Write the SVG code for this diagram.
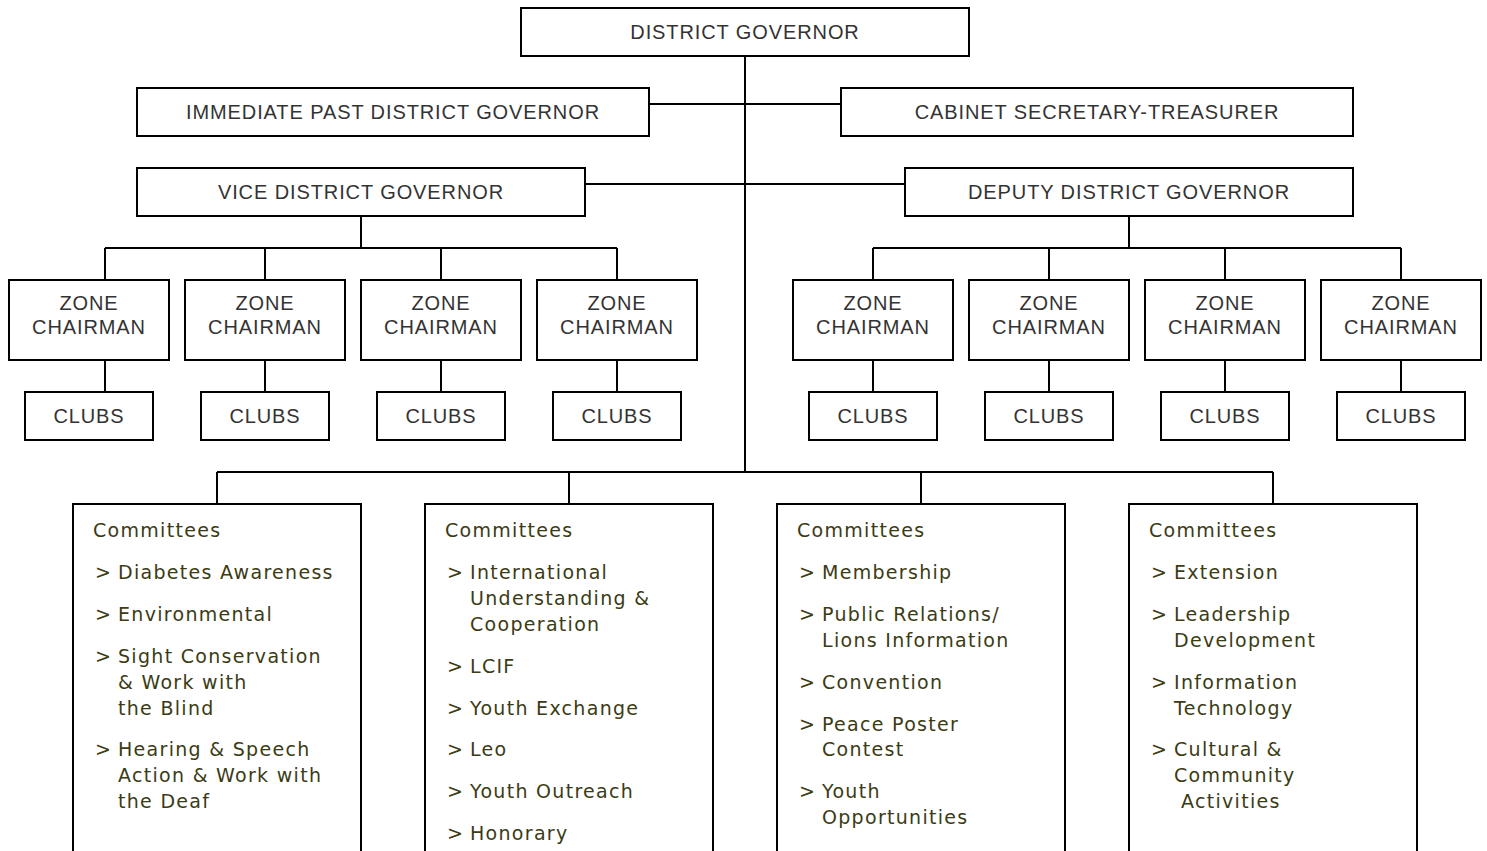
<svg xmlns="http://www.w3.org/2000/svg" width="1487" height="851" viewBox="0 0 1487 851">
<style>
.box{fill:#fff;stroke:#000;stroke-width:2}
.t{font-family:"Liberation Sans",Arial,sans-serif;font-size:20px;fill:#333;text-anchor:middle;letter-spacing:0.9px}
.c{font-family:"DejaVu Sans",Verdana,sans-serif;font-size:19px;fill:#3b3b14;letter-spacing:1.3px}
.ln{fill:none;stroke:#000;stroke-width:2}
</style>
<rect width="1487" height="851" fill="#fff"/>
<g id="connectors" class="ln">
<path d="M745 56V472"/>
<path d="M649 104H841"/>
<path d="M585 184H905"/>
<path d="M361 216V248M105 248H617M105 248V280M265 248V280M441 248V280M617 248V280"/>
<path d="M1129 216V248M873 248H1401M873 248V280M1049 248V280M1225 248V280M1401 248V280"/>
<path d="M105 360V392M265 360V392M441 360V392M617 360V392M873 360V392M1049 360V392M1225 360V392M1401 360V392"/>
<path d="M217 472H1273M217 472V504M569 472V504M921 472V504M1273 472V504"/>
</g>
<g id="dg"><rect class="box" x="521" y="8" width="448" height="48"/><text class="t" x="745" y="39">DISTRICT GOVERNOR</text></g>
<g id="ipdg"><rect class="box" x="137" y="88" width="512" height="48"/><text class="t" x="393" y="119">IMMEDIATE PAST DISTRICT GOVERNOR</text></g>
<g id="cst"><rect class="box" x="841" y="88" width="512" height="48"/><text class="t" x="1097" y="119">CABINET SECRETARY-TREASURER</text></g>
<g id="vdg"><rect class="box" x="137" y="168" width="448" height="48"/><text class="t" x="361" y="199">VICE DISTRICT GOVERNOR</text></g>
<g id="ddg"><rect class="box" x="905" y="168" width="448" height="48"/><text class="t" x="1129" y="199">DEPUTY DISTRICT GOVERNOR</text></g>
<g id="zone1"><rect class="box" x="9" y="280" width="160" height="80"/><text class="t" x="89" y="310">ZONE</text><text class="t" x="89" y="334">CHAIRMAN</text></g>
<g id="zone2"><rect class="box" x="185" y="280" width="160" height="80"/><text class="t" x="265" y="310">ZONE</text><text class="t" x="265" y="334">CHAIRMAN</text></g>
<g id="zone3"><rect class="box" x="361" y="280" width="160" height="80"/><text class="t" x="441" y="310">ZONE</text><text class="t" x="441" y="334">CHAIRMAN</text></g>
<g id="zone4"><rect class="box" x="537" y="280" width="160" height="80"/><text class="t" x="617" y="310">ZONE</text><text class="t" x="617" y="334">CHAIRMAN</text></g>
<g id="zone5"><rect class="box" x="793" y="280" width="160" height="80"/><text class="t" x="873" y="310">ZONE</text><text class="t" x="873" y="334">CHAIRMAN</text></g>
<g id="zone6"><rect class="box" x="969" y="280" width="160" height="80"/><text class="t" x="1049" y="310">ZONE</text><text class="t" x="1049" y="334">CHAIRMAN</text></g>
<g id="zone7"><rect class="box" x="1145" y="280" width="160" height="80"/><text class="t" x="1225" y="310">ZONE</text><text class="t" x="1225" y="334">CHAIRMAN</text></g>
<g id="zone8"><rect class="box" x="1321" y="280" width="160" height="80"/><text class="t" x="1401" y="310">ZONE</text><text class="t" x="1401" y="334">CHAIRMAN</text></g>
<g id="clubs1"><rect class="box" x="25" y="392" width="128" height="48"/><text class="t" x="89" y="423">CLUBS</text></g>
<g id="clubs2"><rect class="box" x="201" y="392" width="128" height="48"/><text class="t" x="265" y="423">CLUBS</text></g>
<g id="clubs3"><rect class="box" x="377" y="392" width="128" height="48"/><text class="t" x="441" y="423">CLUBS</text></g>
<g id="clubs4"><rect class="box" x="553" y="392" width="128" height="48"/><text class="t" x="617" y="423">CLUBS</text></g>
<g id="clubs5"><rect class="box" x="809" y="392" width="128" height="48"/><text class="t" x="873" y="423">CLUBS</text></g>
<g id="clubs6"><rect class="box" x="985" y="392" width="128" height="48"/><text class="t" x="1049" y="423">CLUBS</text></g>
<g id="clubs7"><rect class="box" x="1161" y="392" width="128" height="48"/><text class="t" x="1225" y="423">CLUBS</text></g>
<g id="clubs8"><rect class="box" x="1337" y="392" width="128" height="48"/><text class="t" x="1401" y="423">CLUBS</text></g>
<g id="committees1">
<rect class="box" x="73" y="504" width="288" height="360"/>
<text class="c" x="93" y="537">Committees</text>
<text class="c" x="95" y="579">&gt;</text><text class="c" x="118" y="579">Diabetes Awareness</text>
<text class="c" x="95" y="621">&gt;</text><text class="c" x="118" y="621">Environmental</text>
<text class="c" x="95" y="663">&gt;</text><text class="c" x="118" y="663">Sight Conservation</text>
<text class="c" x="118" y="689">&amp; Work with</text>
<text class="c" x="118" y="715">the Blind</text>
<text class="c" x="95" y="756">&gt;</text><text class="c" x="118" y="756">Hearing &amp; Speech</text>
<text class="c" x="118" y="782">Action &amp; Work with</text>
<text class="c" x="118" y="808">the Deaf</text>
</g>
<g id="committees2">
<rect class="box" x="425" y="504" width="288" height="360"/>
<text class="c" x="445" y="537">Committees</text>
<text class="c" x="447" y="579">&gt;</text><text class="c" x="470" y="579">International</text>
<text class="c" x="470" y="605">Understanding &amp;</text>
<text class="c" x="470" y="631">Cooperation</text>
<text class="c" x="447" y="673">&gt;</text><text class="c" x="470" y="673">LCIF</text>
<text class="c" x="447" y="715">&gt;</text><text class="c" x="470" y="715">Youth Exchange</text>
<text class="c" x="447" y="756">&gt;</text><text class="c" x="470" y="756">Leo</text>
<text class="c" x="447" y="798">&gt;</text><text class="c" x="470" y="798">Youth Outreach</text>
<text class="c" x="447" y="840">&gt;</text><text class="c" x="470" y="840">Honorary</text>
</g>
<g id="committees3">
<rect class="box" x="777" y="504" width="288" height="360"/>
<text class="c" x="797" y="537">Committees</text>
<text class="c" x="799" y="579">&gt;</text><text class="c" x="822" y="579">Membership</text>
<text class="c" x="799" y="621">&gt;</text><text class="c" x="822" y="621">Public Relations/</text>
<text class="c" x="822" y="647">Lions Information</text>
<text class="c" x="799" y="689">&gt;</text><text class="c" x="822" y="689">Convention</text>
<text class="c" x="799" y="731">&gt;</text><text class="c" x="822" y="731">Peace Poster</text>
<text class="c" x="822" y="756">Contest</text>
<text class="c" x="799" y="798">&gt;</text><text class="c" x="822" y="798">Youth</text>
<text class="c" x="822" y="824">Opportunities</text>
</g>
<g id="committees4">
<rect class="box" x="1129" y="504" width="288" height="360"/>
<text class="c" x="1149" y="537">Committees</text>
<text class="c" x="1151" y="579">&gt;</text><text class="c" x="1174" y="579">Extension</text>
<text class="c" x="1151" y="621">&gt;</text><text class="c" x="1174" y="621">Leadership</text>
<text class="c" x="1174" y="647">Development</text>
<text class="c" x="1151" y="689">&gt;</text><text class="c" x="1174" y="689">Information</text>
<text class="c" x="1174" y="715">Technology</text>
<text class="c" x="1151" y="756">&gt;</text><text class="c" x="1174" y="756">Cultural &amp;</text>
<text class="c" x="1174" y="782">Community</text>
<text class="c" x="1181" y="808">Activities</text>
</g>
</svg>
